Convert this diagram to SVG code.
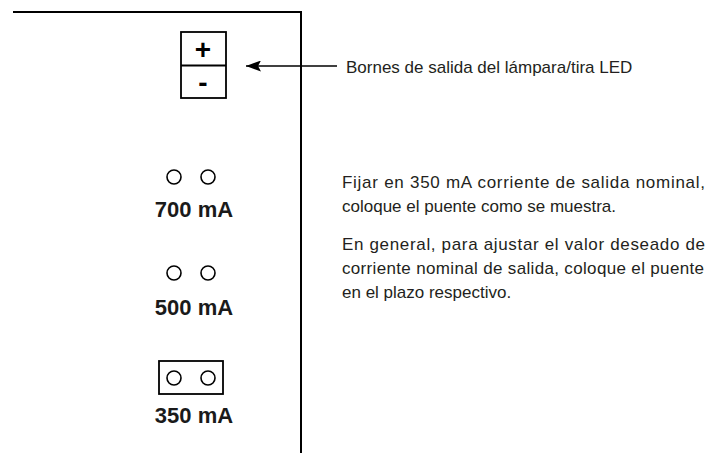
<svg xmlns="http://www.w3.org/2000/svg" width="707" height="453" viewBox="0 0 707 453">
<style>
.ln{stroke:#000;stroke-width:2;fill:none}
.bx{stroke:#000;stroke-width:1.8;fill:#fff}
.c{stroke:#000;stroke-width:1.6;fill:none}
.lbl{font-family:"Liberation Sans",Arial,sans-serif;font-weight:bold;font-size:22px;fill:#1a1a1a;text-anchor:middle}
.sym{font-family:"Liberation Sans",Arial,sans-serif;font-weight:bold;font-size:28px;fill:#000;text-anchor:middle}
.t{font-family:"Liberation Sans",Arial,sans-serif;font-size:17px;fill:#231f20}
</style>
<defs>
<marker id="ah" markerWidth="15" markerHeight="11" refX="15" refY="5.5" orient="auto" markerUnits="userSpaceOnUse">
<path d="M15,5.5 L0,0 L3,5.5 L0,11 Z" fill="#000"/>
</marker>
</defs>
<g id="board">
<path class="ln" d="M13,12 H301 V453"/>
</g>
<g id="terminals">
<rect class="bx" x="181" y="32" width="45" height="66"/>
<line class="ln" x1="181" y1="65.5" x2="226" y2="65.5"/>
<text class="sym" x="203" y="59">+</text>
<text class="sym" x="203" y="92">-</text>
</g>
<g id="j700">
<circle class="c" cx="174" cy="177" r="7"/>
<circle class="c" cx="208" cy="177" r="7"/>
<text class="lbl" x="194" y="217">700 mA</text>
</g>
<g id="j500">
<circle class="c" cx="174" cy="273" r="7"/>
<circle class="c" cx="208" cy="273" r="7"/>
<text class="lbl" x="194" y="315">500 mA</text>
</g>
<g id="j350">
<rect class="bx" x="159" y="361" width="64" height="33"/>
<circle class="c" cx="174" cy="378" r="7"/>
<circle class="c" cx="208" cy="378" r="7"/>
<text class="lbl" x="194" y="423">350 mA</text>
</g>
<g id="connectors">
<line x1="337" y1="66" x2="246" y2="66" stroke="#000" stroke-width="1.3" marker-end="url(#ah)"/>
</g>
<g id="notes">
<text class="t" x="346" y="73">Bornes de salida del lámpara/tira LED</text>
<text class="t" x="342" y="188" textLength="363" lengthAdjust="spacing">Fijar en 350 mA corriente de salida nominal,</text>
<text class="t" x="342" y="212">coloque el puente como se muestra.</text>
<text class="t" x="342" y="250" textLength="363" lengthAdjust="spacing">En general, para ajustar el valor deseado de</text>
<text class="t" x="342" y="274" textLength="362" lengthAdjust="spacing">corriente nominal de salida, coloque el puente</text>
<text class="t" x="342" y="298">en el plazo respectivo.</text>
</g>
</svg>
